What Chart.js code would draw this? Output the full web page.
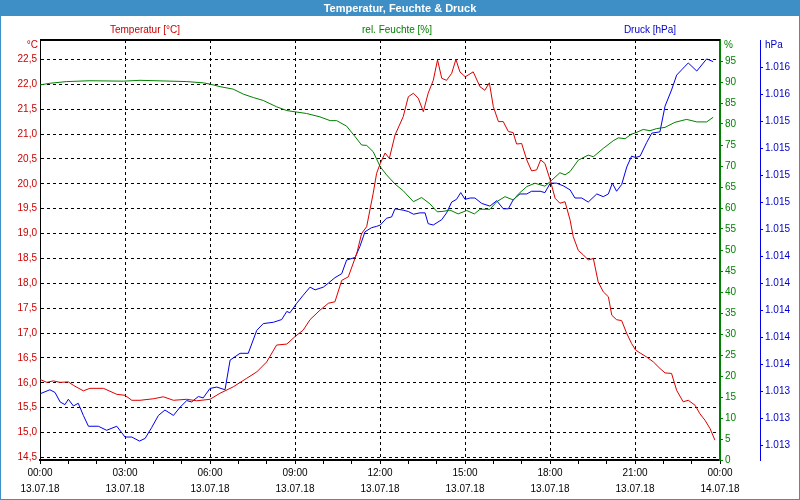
<!DOCTYPE html>
<html lang="de">
<head>
<meta charset="utf-8">
<title>Temperatur, Feuchte & Druck</title>
<script src="https://cdn.jsdelivr.net/npm/chart.js@4.4.0/dist/chart.umd.min.js"></script>
<style>
  html, body { margin: 0; padding: 0; background: #fff; }
  #grafik { display: block; }
</style>
</head>
<body>
<canvas id="grafik" width="800" height="500"></canvas>
<script>
// Messwerte 13.07.18 - Zeit in Stunden ab 00:00
var zeitTemp = [0.00, 0.24, 0.47, 0.71, 1.00, 1.18, 1.53, 1.76, 2.24, 2.71, 3.00, 3.24, 3.53, 4.00, 4.35, 4.71,
  5.18, 5.53, 6.00, 6.35, 6.82, 7.29, 7.65, 8.00, 8.35, 8.71, 9.00, 9.29, 9.53, 9.88, 10.18, 10.41, 10.65, 10.88,
  11.18, 11.35, 11.53, 11.76, 11.88, 12.01, 12.18, 12.33, 12.53, 12.82, 13.00, 13.18, 13.35, 13.53, 13.70, 13.88,
  14.03, 14.18, 14.35, 14.53, 14.68, 14.82, 15.01, 15.29, 15.53, 15.70, 15.86, 16.00, 16.18, 16.35, 16.53, 16.70,
  16.82, 17.00, 17.18, 17.35, 17.53, 17.67, 17.82, 18.01, 18.18, 18.35, 18.53, 18.71, 18.82, 19.00, 19.18, 19.35,
  19.53, 19.70, 19.88, 20.06, 20.18, 20.35, 20.53, 20.71, 20.88, 21.02, 21.18, 21.41, 21.65, 21.88, 22.06, 22.29,
  22.47, 22.70, 22.88, 23.12, 23.29, 23.47, 23.65, 23.82];
var temperatur = [16.07, 16.01, 16.04, 16.01, 16.02, 15.95, 15.84, 15.89, 15.89, 15.77, 15.75, 15.65, 15.65, 15.68, 15.72, 15.65,
  15.67, 15.64, 15.67, 15.79, 15.92, 16.09, 16.22, 16.42, 16.76, 16.78, 16.93, 17.06, 17.27, 17.46, 17.60, 17.63, 18.06, 18.13,
  18.60, 19.00, 19.14, 19.81, 20.21, 20.41, 20.62, 20.51, 20.98, 21.35, 21.75, 21.82, 21.72, 21.45, 21.82, 22.08,
  22.49, 22.12, 22.08, 22.22, 22.50, 22.25, 22.15, 22.25, 21.95, 21.88, 22.03, 21.55, 21.25, 21.25, 21.05, 21.03,
  20.80, 20.81, 20.48, 20.26, 20.28, 20.48, 20.41, 20.07, 19.71, 19.61, 19.64, 19.27, 18.94, 18.66, 18.57, 18.47,
  18.50, 18.03, 17.83, 17.73, 17.36, 17.27, 17.25, 16.99, 16.79, 16.66, 16.60, 16.52, 16.42, 16.29, 16.20, 16.19,
  15.85, 15.62, 15.65, 15.55, 15.38, 15.25, 15.08, 14.85];

var zeitFeuchte = [0.00, 0.35, 0.94, 1.76, 2.94, 3.53, 5.18, 5.76, 6.00, 6.35, 6.82, 7.18, 7.53, 7.88, 8.35, 8.71,
  9.00, 9.41, 9.88, 10.24, 10.47, 10.82, 11.12, 11.35, 11.53, 11.76, 12.01, 12.23, 12.53, 12.82, 13.18, 13.47,
  13.76, 14.02, 14.23, 14.47, 14.76, 15.06, 15.33, 15.53, 15.88, 16.12, 16.41, 16.71, 16.88, 17.18, 17.47, 17.82,
  18.01, 18.35, 18.53, 18.71, 19.00, 19.35, 19.53, 19.88, 20.23, 20.41, 20.65, 20.88, 21.02, 21.29, 21.53, 21.76,
  22.06, 22.41, 22.82, 23.18, 23.53, 23.76];
var feuchte = [89.3, 89.7, 90.1, 90.3, 90.2, 90.4, 90.1, 89.8, 89.5, 88.9, 88.3, 87.1, 86.3, 85.6, 84.1, 83.2,
  82.9, 82.5, 81.7, 80.8, 80.8, 79.5, 77.0, 75.0, 74.9, 73.4, 69.8, 67.9, 65.7, 64.1, 61.5, 62.5,
  61.0, 59.1, 59.2, 59.5, 58.6, 59.4, 58.6, 59.7, 59.7, 61.5, 62.7, 61.9, 63.3, 65.1, 65.9, 65.2,
  66.3, 68.4, 67.9, 68.7, 71.4, 72.6, 72.2, 74.2, 76.0, 76.7, 76.5, 77.6, 77.9, 78.7, 78.4, 78.9,
  79.2, 80.4, 81.1, 80.5, 80.5, 81.6];

var zeitDruck = [0.00, 0.35, 0.53, 0.71, 0.88, 1.00, 1.18, 1.35, 1.53, 1.71, 2.06, 2.35, 2.71, 3.00, 3.24, 3.51,
  3.71, 3.94, 4.18, 4.41, 4.71, 4.94, 5.18, 5.35, 5.59, 5.76, 6.00, 6.24, 6.53, 6.71, 7.06, 7.35, 7.65, 7.88,
  8.24, 8.53, 8.71, 8.82, 9.06, 9.29, 9.53, 9.71, 10.00, 10.18, 10.41, 10.65, 10.82, 11.12, 11.29, 11.47, 11.70,
  11.88, 12.01, 12.23, 12.41, 12.53, 12.82, 13.00, 13.18, 13.41, 13.59, 13.70, 13.88, 14.18, 14.35, 14.53, 14.70,
  14.85, 15.00, 15.18, 15.35, 15.59, 15.88, 16.12, 16.35, 16.53, 16.71, 16.94, 17.18, 17.35, 17.65, 17.82, 18.01,
  18.23, 18.47, 18.71, 18.88, 19.12, 19.35, 19.65, 19.88, 20.06, 20.20, 20.35, 20.53, 20.71, 20.88, 21.02, 21.18,
  21.41, 21.59, 21.88, 22.06, 22.29, 22.47, 22.65, 22.88, 23.18, 23.53, 23.76];
var druck = [1013.38, 1013.41, 1013.39, 1013.32, 1013.30, 1013.34, 1013.29, 1013.31, 1013.22, 1013.14, 1013.14, 1013.11, 1013.14, 1013.06, 1013.06, 1013.03,
  1013.05, 1013.13, 1013.22, 1013.26, 1013.22, 1013.28, 1013.33, 1013.32, 1013.36, 1013.35, 1013.42, 1013.43, 1013.41, 1013.63, 1013.68, 1013.68, 1013.85, 1013.90,
  1013.91, 1013.93, 1013.99, 1013.98, 1014.05, 1014.11, 1014.17, 1014.15, 1014.17, 1014.20, 1014.24, 1014.27, 1014.37, 1014.39, 1014.47, 1014.58, 1014.61,
  1014.62, 1014.63, 1014.68, 1014.69, 1014.75, 1014.74, 1014.73, 1014.71, 1014.72, 1014.72, 1014.64, 1014.63, 1014.67, 1014.72, 1014.80, 1014.82,
  1014.87, 1014.82, 1014.83, 1014.83, 1014.79, 1014.77, 1014.81, 1014.75, 1014.75, 1014.82, 1014.86, 1014.86, 1014.88, 1014.88, 1014.87, 1014.94,
  1014.94, 1014.92, 1014.89, 1014.83, 1014.83, 1014.80, 1014.86, 1014.84, 1014.86, 1014.94, 1014.88, 1014.93, 1015.06, 1015.14, 1015.13, 1015.14,
  1015.24, 1015.31, 1015.32, 1015.51, 1015.63, 1015.74, 1015.78, 1015.83, 1015.77, 1015.86, 1015.84];

// Achsenbeschriftungen
var stundenTicks = [0, 1, 2, 3, 4, 5, 6, 7, 8, 9, 10, 11, 12, 13, 14, 15, 16, 17, 18, 19, 20, 21, 22, 23, 24];
var zeitLabels = ["00:00", "03:00", "06:00", "09:00", "12:00", "15:00", "18:00", "21:00", "00:00"];
var datumLabels = ["13.07.18", "13.07.18", "13.07.18", "13.07.18", "13.07.18", "13.07.18", "13.07.18", "13.07.18", "14.07.18"];
var tempTicks = [14.5, 15.0, 15.5, 16.0, 16.5, 17.0, 17.5, 18.0, 18.5, 19.0, 19.5, 20.0, 20.5, 21.0, 21.5, 22.0, 22.5];
var feuchteTicks = [0, 5, 10, 15, 20, 25, 30, 35, 40, 45, 50, 55, 60, 65, 70, 75, 80, 85, 90, 95];
var druckTicks = [1013.0, 1013.2, 1013.4, 1013.6, 1013.8, 1014.0, 1014.2, 1014.4, 1014.6, 1014.8, 1015.0, 1015.2, 1015.4, 1015.6, 1015.8];
var druckLabels = ["1.013", "1.013", "1.013", "1.014", "1.014", "1.014", "1.014", "1.014", "1.015", "1.015", "1.015", "1.015", "1.015", "1.016", "1.016"];

var ROT = "#dd0000";
var ROT_TEXT = "#cc0000";
var GRUEN = "#008000";
var BLAU = "#0000ee";
var BLAU_TEXT = "#0000cc";
var RAHMEN = "#3d8fc6";

Chart.defaults.font.family = "'Liberation Sans', Arial, sans-serif";
Chart.defaults.font.size = 10;

function punkte(zeit, werte) {
  return zeit.map(function (t, i) {
    return { x: t, y: werte[i] };
  });
}

// Rahmen, Titelleiste und Kopfzeile der Achsen
const rahmenPlugin = {
  id: "rahmen",
  beforeDraw: function (chart) {
    const ctx = chart.ctx;
    ctx.save();
    ctx.fillStyle = "#ffffff";
    ctx.fillRect(0, 0, chart.width, chart.height);
    ctx.fillStyle = RAHMEN;
    ctx.fillRect(0, 0, chart.width, 16);
    ctx.strokeStyle = RAHMEN;
    ctx.lineWidth = 1;
    ctx.strokeRect(0.5, 0.5, chart.width - 1, chart.height - 1);
    ctx.restore();
  },
  beforeDatasetsDraw: function (chart) {
    const a = chart.chartArea;
    const ctx = chart.ctx;
    ctx.save();
    ctx.fillStyle = "#000";
    ctx.fillRect(a.left, a.top - 1, a.right - a.left, 2);
    ctx.restore();
  },
  afterDraw: function (chart) {
    const ctx = chart.ctx;
    ctx.save();
    ctx.font = "10px 'Liberation Sans', Arial, sans-serif";
    ctx.textBaseline = "middle";
    ctx.textAlign = "center";
    ctx.fillStyle = ROT_TEXT;
    ctx.fillText("Temperatur [°C]", 145, 30);
    ctx.fillStyle = GRUEN;
    ctx.fillText("rel. Feuchte [%]", 397, 30);
    ctx.fillStyle = BLAU_TEXT;
    ctx.fillText("Druck [hPa]", 650, 30);
    // Einheiten über den Achsen
    ctx.textAlign = "right";
    ctx.fillStyle = ROT_TEXT;
    ctx.fillText("°C", 38, 45);
    ctx.textAlign = "left";
    ctx.fillStyle = GRUEN;
    ctx.fillText("%", 724, 45);
    ctx.fillStyle = BLAU_TEXT;
    ctx.fillText("hPa", 765, 45);
    ctx.restore();
  },
};

const config = {
  type: "line",
  data: {
    datasets: [
      {
        label: "Temperatur [°C]",
        data: punkte(zeitTemp, temperatur),
        borderColor: ROT,
        yAxisID: "y",
      },
      {
        label: "rel. Feuchte [%]",
        data: punkte(zeitFeuchte, feuchte),
        borderColor: GRUEN,
        yAxisID: "yFeuchte",
      },
      {
        label: "Druck [hPa]",
        data: punkte(zeitDruck, druck),
        borderColor: BLAU,
        yAxisID: "yDruck",
      },
    ],
  },
  options: {
    responsive: false,
    animation: false,
    devicePixelRatio: 1,
    layout: { padding: 0 },
    elements: {
      line: { borderWidth: 1, tension: 0 },
      point: { radius: 0 },
    },
    plugins: {
      legend: { display: false },
      tooltip: { enabled: false },
      title: {
        display: true,
        text: "Temperatur, Feuchte & Druck",
        color: "#ffffff",
        font: { size: 11, weight: "bold", lineHeight: 1.2 },
        padding: { top: 2, bottom: 24.8 },
      },
    },
    scales: {
      x: {
        type: "linear",
        min: 0,
        max: 24,
        afterBuildTicks: function (s) {
          s.ticks = stundenTicks.map(function (v) { return { value: v }; });
        },
        afterFit: function (s) { s.height = 40; },
        grid: {
          color: function (c) {
            return c.tick && c.tick.value % 3 === 0 ? "#000" : "rgba(0,0,0,0)";
          },
          tickColor: "#000",
          tickLength: 4,
        },
        border: { color: "#000", width: 2, dash: [3, 3] },
        ticks: {
          autoSkip: false,
          maxRotation: 0,
          minRotation: 0,
          padding: 1,
          color: "#000",
          font: { size: 10, lineHeight: 1.6 },
          callback: function (v) {
            if (v % 3 !== 0) return "";
            return [zeitLabels[v / 3], datumLabels[v / 3]];
          },
        },
      },
      y: {
        position: "left",
        min: 14.45,
        max: 22.89,
        afterBuildTicks: function (s) {
          s.ticks = tempTicks.map(function (v) { return { value: v }; });
        },
        afterFit: function (s) { s.width = 40; },
        grid: { color: "#000", drawTicks: false },
        border: { color: "#000", width: 1, dash: [3, 3] },
        ticks: {
          color: ROT_TEXT,
          padding: 3,
          callback: function (v) {
            return v.toFixed(1).replace(".", ",");
          },
        },
      },
      yFeuchte: {
        position: "right",
        weight: 1,
        min: 0,
        max: 100,
        afterBuildTicks: function (s) {
          s.ticks = feuchteTicks.map(function (v) { return { value: v }; });
        },
        afterFit: function (s) { s.width = 40; },
        grid: { drawOnChartArea: false, color: GRUEN, tickColor: GRUEN, tickLength: 3 },
        border: { color: GRUEN, width: 2 },
        ticks: { color: GRUEN, padding: 2 },
      },
      yDruck: {
        position: "right",
        weight: 2,
        min: 1012.89,
        max: 1016.0,
        afterBuildTicks: function (s) {
          s.ticks = druckTicks.map(function (v) { return { value: v }; });
        },
        afterFit: function (s) { s.width = 40; },
        grid: { drawOnChartArea: false, color: BLAU, tickColor: BLAU, tickLength: 3 },
        border: { color: BLAU, width: 1 },
        ticks: {
          color: BLAU_TEXT,
          padding: 2,
          callback: function (v, i) {
            return druckLabels[i];
          },
        },
      },
    },
  },
  plugins: [rahmenPlugin],
};

const grafik = new Chart(document.getElementById("grafik"), config);
</script>
</body>
</html>
